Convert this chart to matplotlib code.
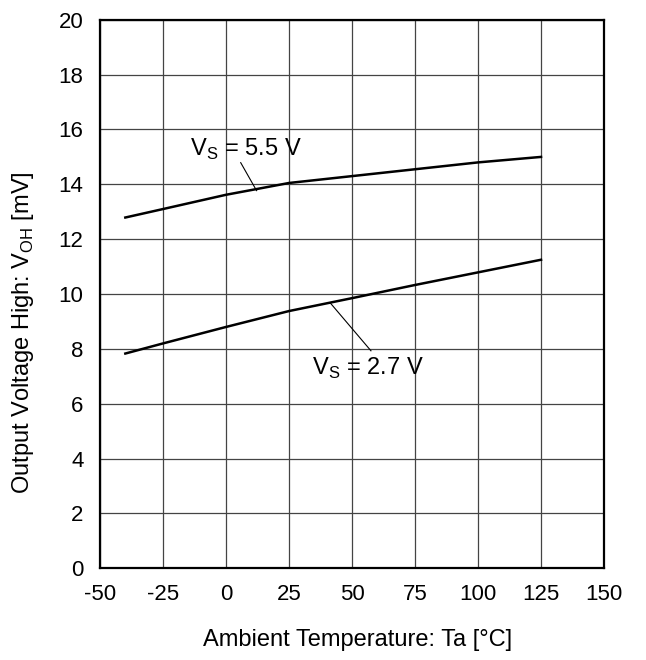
import matplotlib.pyplot as plt

plt.rcParams['font.family'] = ['Liberation Sans', 'DejaVu Sans']
plt.rcParams['mathtext.fontset'] = 'custom'
plt.rcParams['mathtext.rm'] = 'Liberation Sans'
plt.rcParams['axes.unicode_minus'] = False

temp = [-40, -25, 0, 25, 50, 75, 100, 125]
voh_55 = [12.79, 13.1, 13.62, 14.05, 14.3, 14.55, 14.8, 15.0]
voh_27 = [7.83, 8.2, 8.8, 9.38, 9.85, 10.33, 10.79, 11.25]

fig = plt.figure(figsize=(6.46, 6.6), dpi=100)
ax = fig.add_axes([0.155, 0.139, 0.78, 0.831])

ax.plot(temp, voh_55, '-', color='black', lw=1.8)
ax.plot(temp, voh_27, '-', color='black', lw=1.8)

ax.set_xlim(-50, 150)
ax.set_ylim(0, 20)
ax.set_xticks(range(-50, 151, 25))
ax.set_yticks(range(0, 21, 2))
ax.grid(True, color='#444444', lw=0.9)
ax.tick_params(length=0, labelsize=16)
ax.tick_params(axis='y', pad=12)
ax.tick_params(axis='x', pad=11)
for s in ax.spines.values():
    s.set_linewidth(1.6)

ax.set_xlabel("Ambient Temperature: Ta [°C]", fontsize=17)
ax.set_ylabel(r"Output Voltage High: V$_\mathregular{OH}$ [mV]", fontsize=17)
ax.xaxis.set_label_coords(0.51, -0.11)
ax.yaxis.set_label_coords(-0.127, 0.43)

# annotations
ax.plot([5.8, 12.1], [14.79, 13.77], color='black', lw=0.8)
ax.text(-14.3, 15.26, r"V$_\mathregular{S}$ = 5.5 V", fontsize=17, va='center', ha='left')
ax.plot([41.3, 57.5], [9.68, 7.93], color='black', lw=0.8)
ax.text(34.0, 7.30, r"V$_\mathregular{S}$ = 2.7 V", fontsize=17, va='center', ha='left')

fig.savefig('out.png', dpi=100)
